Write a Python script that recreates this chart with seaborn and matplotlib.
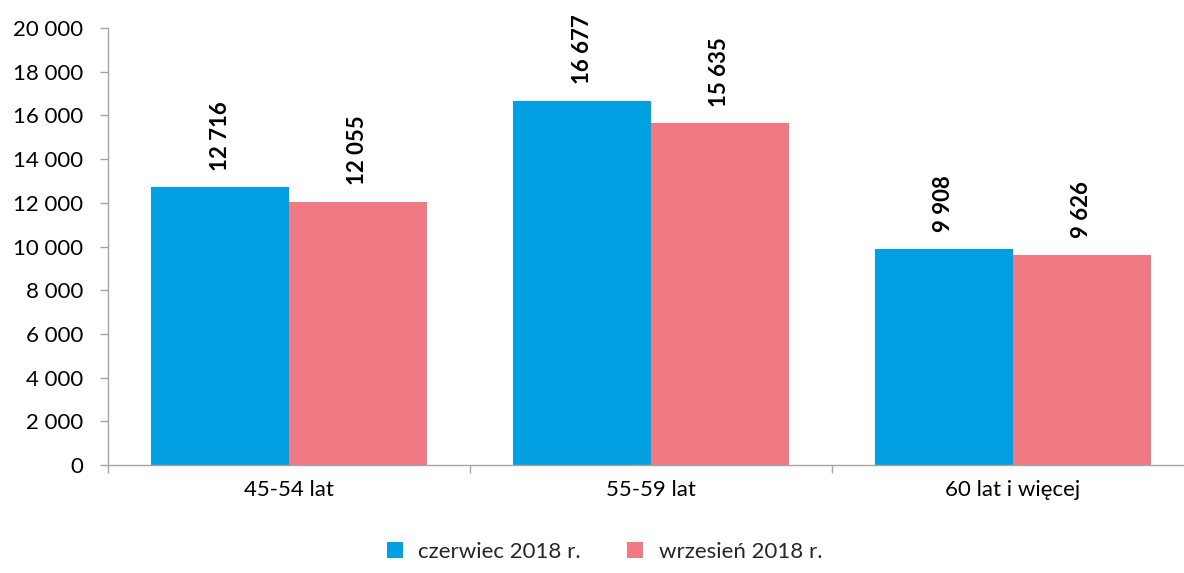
import matplotlib
matplotlib.use("Agg")
import matplotlib.pyplot as plt
import seaborn as sns
import pandas as pd
from matplotlib.ticker import FuncFormatter, FixedLocator
from matplotlib.patches import Patch

categories = ["45-54 lat", "55-59 lat", "60 lat i więcej"]
series_names = ["czerwiec 2018 r.", "wrzesień 2018 r."]
czerwiec = [12716, 16677, 9908]
wrzesien = [12055, 15635, 9626]
colors = ["#00A0E2", "#F07A84"]

df = pd.DataFrame({
    "kategoria": categories * 2,
    "seria": [series_names[0]] * 3 + [series_names[1]] * 3,
    "wartosc": czerwiec + wrzesien,
})

sns.set_style("white")
plt.rcParams["font.family"] = ["Lato", "DejaVu Sans"]

fig = plt.figure(figsize=(11.84, 5.73), dpi=100)
ax = fig.add_axes([0.0912, 0.1885, 0.9172, 0.7625])

sns.barplot(data=df, x="kategoria", y="wartosc", hue="seria", palette=colors,
            width=0.762, saturation=1, ax=ax, legend=False, edgecolor="none")

fmt = lambda v: f"{int(v):,}".replace(",", " ")
for cont in ax.containers:
    for bar in cont:
        h = bar.get_height()
        ax.annotate(fmt(h), (bar.get_x() + bar.get_width() / 2, h),
                    xytext=(0, 12), textcoords="offset points",
                    rotation=90, ha="center", va="bottom",
                    fontsize=16, fontweight="bold", color="black")

ax.set_ylim(0, 20000)
ax.set_xlim(-0.5, 2.5)
ax.yaxis.set_major_locator(FixedLocator(range(0, 20001, 2000)))
ax.yaxis.set_major_formatter(FuncFormatter(lambda v, p: fmt(v)))
ax.set_xlabel("")
ax.set_ylabel("")

for s in ["top", "right"]:
    ax.spines[s].set_visible(False)
for s in ["left", "bottom"]:
    ax.spines[s].set_color("#A6A6A6")
    ax.spines[s].set_linewidth(1)

ax.tick_params(axis="y", which="major", length=6, width=1, color="#A6A6A6",
               labelsize=16, pad=12, left=True)
ax.tick_params(axis="x", which="major", length=0, labelsize=16, pad=11)
ax.set_xticks([0, 1, 2])
ax.set_xticklabels(categories)
ax.xaxis.set_minor_locator(FixedLocator([-0.5, 0.5, 1.5, 2.5]))
ax.tick_params(axis="x", which="minor", length=6, width=1, color="#A6A6A6",
               bottom=True)
for lab in ax.get_xticklabels() + ax.get_yticklabels():
    lab.set_color("black")

handles = [Patch(facecolor=c, edgecolor="none") for c in colors]
fig.legend(handles, series_names, loc="lower center", ncol=2, frameon=False,
           fontsize=16, bbox_to_anchor=(0.5106, -0.015), handlelength=0.7,
           handleheight=0.7, columnspacing=2.1, handletextpad=0.7)

fig.savefig("out.png", dpi=100)
